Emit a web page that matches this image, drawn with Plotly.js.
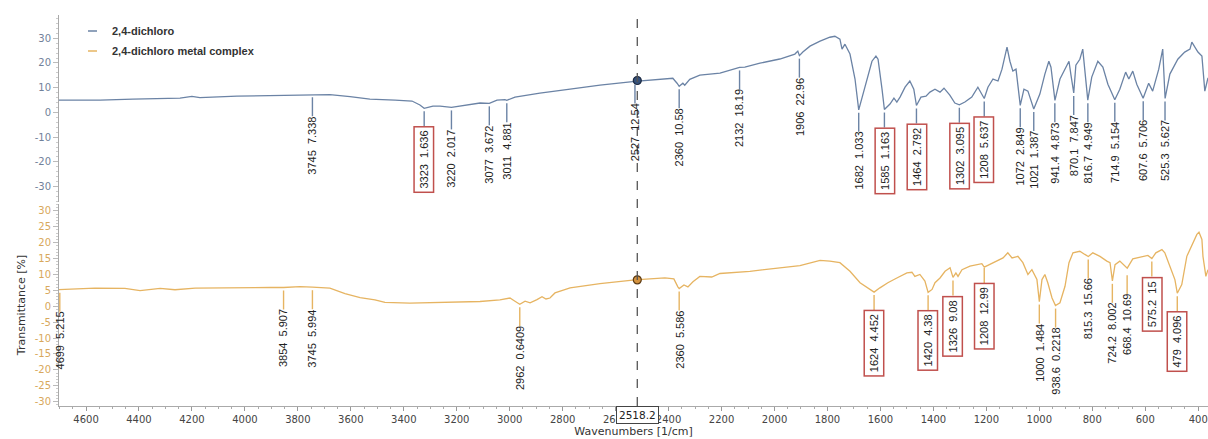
<!DOCTYPE html>
<html><head><meta charset="utf-8">
<script src="https://cdn.plot.ly/plotly-3.0.1.min.js"></script>
<style>html,body{margin:0;padding:0;background:#fff;}#chart{width:1208px;height:439px;}</style>
</head><body><div id="chart"></div>
<script>
const seriesNames = ["2,4-dichloro", "2,4-dichloro metal complex"];

// Upper spectrum: 2,4-dichloro
const wavenumbersA = [4702, 4547, 4423, 4245, 4200, 4170, 4030, 3867, 3745, 3679, 3603, 3528, 3433, 3369, 3339, 3323, 3290, 3263, 3220, 3169, 3112, 3077, 3048, 3018, 3011, 2980, 2886, 2772, 2659, 2527, 2433, 2384, 2368, 2360, 2346, 2339, 2320, 2282, 2206, 2132, 2112, 2055, 1980, 1923, 1912, 1906, 1893, 1866, 1828, 1791, 1772, 1753, 1745, 1734, 1715, 1696, 1682, 1666, 1647, 1632, 1617, 1609, 1594, 1585, 1564, 1549, 1538, 1526, 1507, 1489, 1474, 1464, 1447, 1428, 1413, 1394, 1375, 1360, 1338, 1319, 1302, 1281, 1255, 1232, 1208, 1194, 1175, 1156, 1141, 1122, 1111, 1100, 1088, 1072, 1058, 1043, 1021, 998, 979, 964, 956, 941, 922, 899, 888, 881, 870, 862, 847, 836, 817, 802, 779, 760, 741, 715, 696, 674, 662, 647, 632, 608, 587, 572, 549, 534, 525, 507, 477, 451, 431, 424, 401, 386, 375, 367, 363];
const transmittanceA = [5.0, 5.0, 5.4, 5.8, 6.5, 6.0, 6.6, 7.0, 7.34, 7.2, 6.4, 5.4, 5.0, 4.6, 3.0, 1.64, 2.5, 2.5, 2.02, 3.0, 3.8, 3.67, 5.0, 5.2, 4.88, 6.2, 7.8, 9.4, 11.0, 12.54, 13.4, 13.8, 11.8, 10.58, 11.8, 11.0, 13.4, 15.1, 15.9, 18.19, 18.3, 19.9, 21.6, 23.6, 24.8, 22.96, 24.4, 26.8, 28.8, 30.4, 30.8, 29.6, 25.6, 27.6, 23.6, 13.5, 1.03, 7.4, 15.5, 20.7, 22.8, 21.5, 9.4, 1.16, 3.4, 5.8, 4.2, 6.2, 10.2, 12.7, 9.4, 2.79, 6.2, 6.6, 8.2, 9.4, 8.2, 9.8, 7.0, 3.8, 3.1, 4.2, 6.2, 10.2, 5.64, 10.2, 13.5, 12.7, 17.5, 26.4, 20.7, 16.7, 17.5, 2.85, 9.4, 8.6, 1.39, 7.4, 15.5, 20.7, 18.3, 4.87, 13.5, 18.3, 20.7, 15.5, 7.85, 19.1, 21.5, 25.6, 4.95, 14.3, 20.7, 18.3, 11.4, 5.15, 9.4, 16.3, 13.5, 16.7, 11.4, 5.71, 11.8, 8.6, 17.5, 25.6, 5.63, 15.5, 21.5, 24.4, 25.6, 28.4, 24.4, 22.8, 8.6, 12.2, 14.0];

// Lower spectrum: 2,4-dichloro metal complex
const wavenumbersB = [4702, 4566, 4453, 4396, 4320, 4264, 4188, 4056, 3905, 3854, 3792, 3745, 3679, 3622, 3565, 3509, 3471, 3377, 3226, 3112, 3037, 3010, 2999, 2980, 2962, 2942, 2923, 2897, 2878, 2863, 2848, 2829, 2772, 2659, 2527, 2414, 2380, 2365, 2360, 2342, 2327, 2308, 2282, 2237, 2206, 2093, 1980, 1904, 1828, 1791, 1753, 1715, 1677, 1647, 1624, 1602, 1572, 1538, 1500, 1481, 1470, 1451, 1432, 1420, 1405, 1394, 1375, 1356, 1337, 1326, 1315, 1307, 1292, 1262, 1236, 1217, 1208, 1190, 1160, 1137, 1119, 1103, 1081, 1062, 1043, 1028, 1009, 1000, 990, 979, 968, 952, 939, 922, 903, 888, 873, 847, 828, 815, 798, 771, 745, 733, 724, 714, 696, 668, 647, 609, 590, 575, 560, 537, 526, 507, 488, 479, 462, 443, 424, 405, 397, 386, 382, 371, 363];
const transmittanceB = [5.22, 5.7, 5.6, 4.9, 5.6, 5.2, 5.7, 5.9, 5.9, 5.91, 6.2, 6.0, 5.7, 4.0, 2.7, 2.0, 1.2, 1.0, 1.2, 1.5, 2.0, 2.4, 2.6, 1.6, 0.64, 1.6, 1.1, 2.1, 3.0, 2.3, 2.6, 4.2, 5.8, 7.1, 8.3, 8.9, 8.6, 6.1, 5.59, 6.7, 6.1, 7.7, 9.4, 9.2, 10.3, 11.0, 12.1, 12.8, 14.4, 14.2, 13.7, 11.0, 7.4, 5.8, 4.45, 5.8, 7.4, 8.9, 10.5, 10.7, 9.4, 10.0, 7.9, 4.38, 5.3, 7.4, 8.9, 11.0, 12.1, 9.08, 10.5, 9.4, 11.5, 12.6, 13.1, 13.4, 12.3, 13.1, 14.2, 15.2, 16.8, 15.2, 15.7, 13.7, 10.0, 11.5, 8.4, 1.48, 8.4, 10.0, 7.4, 2.6, 0.22, 1.1, 6.3, 13.7, 16.8, 17.3, 16.3, 15.66, 16.8, 15.7, 14.2, 13.7, 8.0, 13.1, 14.2, 12.0, 14.9, 15.5, 16.0, 15.0, 16.8, 17.8, 16.8, 12.6, 8.4, 4.1, 6.8, 15.7, 19.4, 22.6, 23.3, 21.0, 15.7, 9.4, 11.5];

// Peak labels
const peakWnA = [3745, 3323, 3220, 3077, 3011, 2527, 2360, 2132, 1906, 1682, 1585, 1464, 1302, 1208, 1072, 1021, 941.4, 870.1, 816.7, 714.9, 607.6, 525.3];
const peakValA = [7.338, 1.636, 2.017, 3.672, 4.881, 12.54, 10.58, 18.19, 22.96, 1.033, 1.163, 2.792, 3.095, 5.637, 2.849, 1.387, 4.873, 7.847, 4.949, 5.154, 5.706, 5.627];
const peakBoxA = [0, 1, 0, 0, 0, 0, 0, 0, 0, 0, 1, 1, 1, 1, 0, 0, 0, 0, 0, 0, 0, 0];
const peakWnB = [4699, 3854, 3745, 2962, 2360, 1624, 1420, 1326, 1208, 1000, 938.6, 815.3, 724.2, 668.4, 575.2, 479];
const peakValB = [5.215, 5.907, 5.994, 0.6409, 5.586, 4.452, 4.38, 9.08, 12.99, 1.484, 0.2218, 15.66, 8.002, 10.69, 15, 4.096];
const peakBoxB = [0, 0, 0, 0, 0, 1, 1, 1, 1, 0, 0, 0, 0, 0, 1, 1];

// Cursor
const cursorWn = 2518.2;
const cursorValA = 12.9;
const cursorValB = 8.3;

// Axis ticks
const xTicks = [4600, 4400, 4200, 4000, 3800, 3600, 3400, 3200, 3000, 2800, 2600, 2400, 2200, 2000, 1800, 1600, 1400, 1200, 1000, 800, 600, 400];
const yTicksA = [-30, -20, -10, 0, 10, 20, 30];
const yTicksB = [-30, -25, -20, -15, -10, -5, 0, 5, 10, 15, 20, 25, 30];

const colorA = '#6b83a5';
const colorB = '#e6b462';

const traces = [
  {x: wavenumbersA, y: transmittanceA, xaxis: 'x2', yaxis: 'y2', type: 'scatter', mode: 'lines', name: seriesNames[0], line: {color: colorA, width: 1.3}},
  {x: wavenumbersB, y: transmittanceB, xaxis: 'x', yaxis: 'y', type: 'scatter', mode: 'lines', name: seriesNames[1], line: {color: colorB, width: 1.3}},
  {x: [cursorWn], y: [cursorValA], xaxis: 'x2', yaxis: 'y2', type: 'scatter', mode: 'markers', marker: {size: 8, color: '#34507a', line: {color: '#1a2840', width: 1.2}}},
  {x: [cursorWn], y: [cursorValB], xaxis: 'x', yaxis: 'y', type: 'scatter', mode: 'markers', marker: {size: 8, color: '#d4923e', line: {color: '#5a3a14', width: 1.2}}}
];

const annotations = [];
const shapes = [];

function addPeak(wn, val, boxed, xr, yr, color) {
  const drop = boxed ? 18 : 22;
  shapes.push({type: 'line', xref: xr, yref: yr, x0: wn, x1: wn, ysizemode: 'pixel', yanchor: val,
    y0: -3, y1: -drop, line: {color: color, width: 1.4}});
  annotations.push({
    x: wn, y: val, xref: xr, yref: yr,
    text: wn + '\u00a0\u00a0' + val,
    showarrow: false, textangle: -90, xanchor: 'center', yanchor: 'top', yshift: -drop,
    font: {family: 'Liberation Sans, Arial, sans-serif', size: 11, color: '#222'},
    bordercolor: boxed ? '#c0504d' : 'rgba(0,0,0,0)', borderwidth: boxed ? 1.5 : 0, borderpad: boxed ? 3 : 0
  });
}

peakWnA.forEach((w, i) => addPeak(w, peakValA[i], peakBoxA[i], 'x2', 'y2', colorA));
peakWnB.forEach((w, i) => addPeak(w, peakValB[i], peakBoxB[i], 'x', 'y', colorB));

// cursor value box
annotations.push({x: cursorWn, xref: 'x', y: 0, yref: 'paper', yanchor: 'top', yshift: 0, showarrow: false,
  text: String(cursorWn), font: {family: 'DejaVu Sans, Verdana, sans-serif', size: 10.5, color: '#222'},
  bgcolor: '#ffffff', bordercolor: '#444', borderwidth: 1, borderpad: 2});

// legend text
annotations.push({x: 0, xref: 'paper', y: 1, yref: 'paper', xanchor: 'left', yanchor: 'middle', xshift: 51, yshift: -16,
  showarrow: false, text: '<b>' + seriesNames[0] + '</b>', font: {family: 'Liberation Sans, Arial, sans-serif', size: 11, color: '#333'}});
annotations.push({x: 0, xref: 'paper', y: 1, yref: 'paper', xanchor: 'left', yanchor: 'middle', xshift: 51, yshift: -36,
  showarrow: false, text: '<b>' + seriesNames[1] + '</b>', font: {family: 'Liberation Sans, Arial, sans-serif', size: 11, color: '#333'}});

shapes.push({type: 'line', xref: 'x', yref: 'paper', x0: cursorWn, x1: cursorWn, y0: 0, y1: 1, line: {color: '#555', width: 1.3, dash: 'dash'}});
shapes.push({type: 'line', xref: 'paper', xsizemode: 'pixel', xanchor: 0, x0: 29, x1: 38, yref: 'paper', ysizemode: 'pixel', yanchor: 1, y0: -16, y1: -16, line: {color: colorA, width: 1.5}});
shapes.push({type: 'line', xref: 'paper', xsizemode: 'pixel', xanchor: 0, x0: 29, x1: 38, yref: 'paper', ysizemode: 'pixel', yanchor: 1, y0: -36, y1: -36, line: {color: colorB, width: 1.5}});

const tickFont = {family: 'DejaVu Sans, Verdana, sans-serif', size: 10};

const layout = {
  width: 1208, height: 439,
  margin: {l: 59, r: 0, t: 15, b: 33},
  paper_bgcolor: '#fff', plot_bgcolor: '#fff',
  showlegend: false, hovermode: false,
  xaxis: {
    domain: [0, 1], anchor: 'y', range: [4702, 363], autorange: false,
    tickvals: xTicks, ticktext: xTicks.map(String),
    ticks: 'outside', ticklen: 4, tickcolor: '#999', tickwidth: 1,
    minor: {dtick: 50, tick0: 0, ticks: 'outside', ticklen: 2, tickcolor: '#aaa'},
    showline: true, linecolor: '#aaa', linewidth: 1,
    showgrid: false, zeroline: false,
    tickfont: Object.assign({color: '#444'}, tickFont),
    title: {text: 'Wavenumbers [1/cm]', font: {family: 'DejaVu Sans, Verdana, sans-serif', size: 11, color: '#333'}, standoff: 1}
  },
  xaxis2: {
    domain: [0, 1], anchor: 'y2', matches: 'x', range: [4702, 363], autorange: false,
    showticklabels: false, ticks: '', showline: false, showgrid: false, zeroline: false
  },
  yaxis: {
    domain: [0, 0.517], anchor: 'x', range: [-31.35, 32.2], autorange: false,
    tickvals: yTicksB, ticktext: yTicksB.map(String),
    ticks: 'outside', ticklen: 5, tickcolor: '#bbb',
    minor: {dtick: 1, tick0: 0, ticks: 'outside', ticklen: 2, tickcolor: '#ccc'},
    showline: true, linecolor: '#aaa', showgrid: false, zeroline: false,
    tickfont: Object.assign({color: '#d8a85c'}, tickFont),
    title: {text: 'Transmittance [%]', font: {family: 'DejaVu Sans, Verdana, sans-serif', size: 11, color: '#333'}, standoff: 6}
  },
  yaxis2: {
    domain: [0.522, 1], anchor: 'x2', range: [-36.2, 39.4], autorange: false,
    tickvals: yTicksA, ticktext: yTicksA.map(String),
    ticks: 'outside', ticklen: 5, tickcolor: '#bbb',
    minor: {dtick: 2, tick0: 0, ticks: 'outside', ticklen: 2, tickcolor: '#ccc'},
    showline: true, linecolor: '#aaa', showgrid: false, zeroline: false,
    tickfont: Object.assign({color: '#71819a'}, tickFont)
  },
  annotations: annotations,
  shapes: shapes
};

Plotly.newPlot('chart', traces, layout, {staticPlot: true, displayModeBar: false});
</script>
</body></html>
